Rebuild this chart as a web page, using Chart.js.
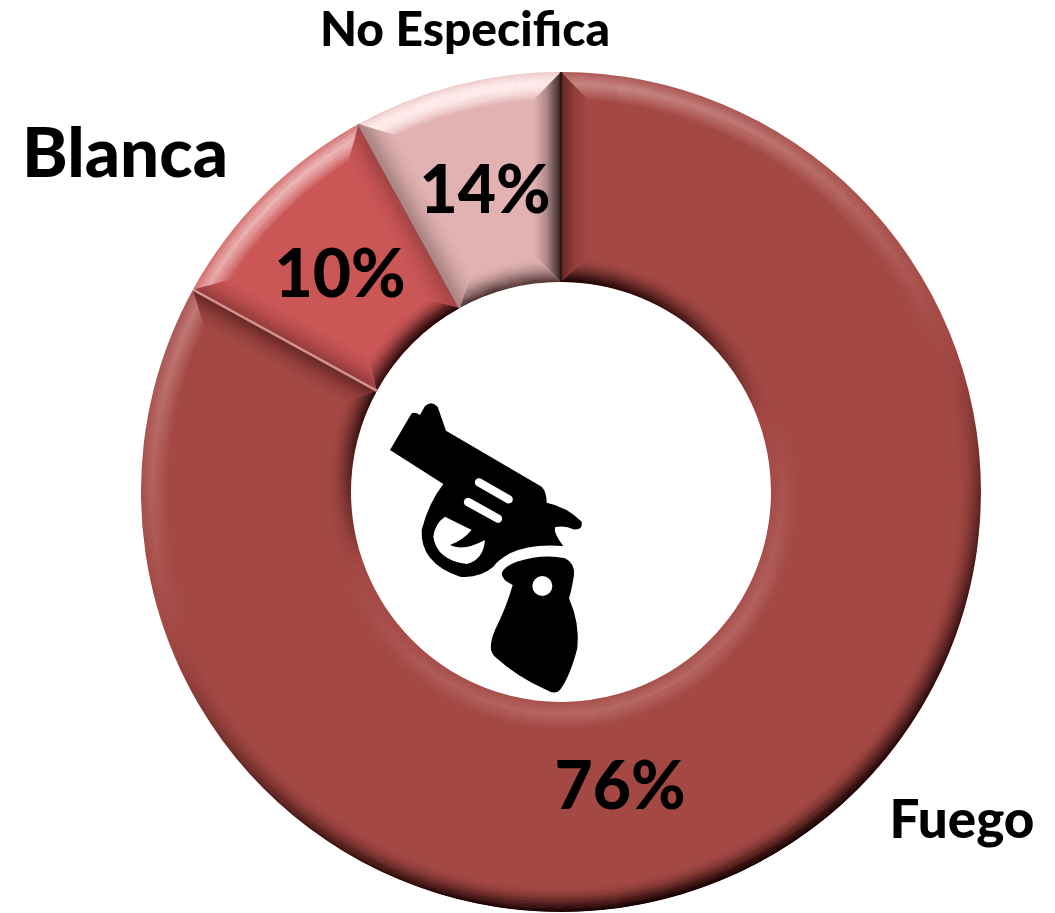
<!DOCTYPE html>
<html><head><meta charset="utf-8">
<style>
html,body{margin:0;padding:0;background:#fff;width:1055px;height:913px;overflow:hidden}
#wrap{position:relative;width:1055px;height:913px}
canvas{position:absolute;left:0;top:0}
#gun{position:absolute;left:370px;top:390px;width:230px;height:310px}
</style>
<script src="https://cdn.jsdelivr.net/npm/chart.js@4/dist/chart.umd.js"></script>
</head><body>
<div id="wrap"><canvas id="c" width="1055" height="913"></canvas>
<svg id="gun" viewBox="0 0 690 930" aria-hidden="true">
<path fill-rule="evenodd" d="M60 180 L125 70 Q135 65 150 75 L165 48 Q185 30 203 50 L228 122 L515 290 Q530 305 530 338 Q590 350 635 395 Q640 420 610 418 Q585 405 555 412 Q550 430 580 468 Q480 460 420 490 Q385 510 370 530 Q330 565 270 560 Q150 520 155 420 Q175 340 220 282 Z M225 380 L305 420 Q280 450 240 465 Q280 485 345 450 Q340 510 290 522 Q200 510 190 440 Q195 400 225 380 Z"/>
<path d="M327 277 L416 328 M294 336 L384 386" stroke="#fff" stroke-width="25" stroke-linecap="round"/>
<path fill-rule="evenodd" d="M395 550 Q400 530 440 515 Q520 490 585 505 Q615 520 612 555 Q605 600 597 625 Q630 700 622 775 Q600 860 570 900 Q555 915 530 900 Q440 860 375 800 Q350 780 375 720 Q410 650 428 585 Q395 570 395 550 Z M547 588 A30 30 0 1 0 487 588 A30 30 0 1 0 547 588 Z"/>
</svg></div>
<script>
const categories = ["Fuego", "Blanca", "No Especifica"];
const sliceSpans = [83, 9, 8];
const percentLabels = ["76%", "10%", "14%"];
const sliceColors = ["#A44844", "#CB5656", "#E2B2B2"];
const percentAnchors = [[620, 788], [340, 276], [485, 192]];
const nameAnchors = [[962, 821, 53], [125, 155, 69], [465, 31, 48]];
const FONT = 'Lato, "Open Sans", sans-serif';
const L = [-0.35, -0.94];

function shade(nx, ny){ return nx * L[0] + ny * L[1]; }

function rimPath(ctx, x, y, r, rIn, a0, a1, w, outer){
  ctx.beginPath();
  if (outer){
    const d = w / (r - w);
    ctx.arc(x, y, r, a0, a1);
    ctx.arc(x, y, r - w, a1 - d, a0 + d, true);
  } else {
    const d = w / (rIn + w);
    ctx.arc(x, y, rIn, a0, a1);
    ctx.arc(x, y, rIn + w, a1 - d, a0 + d, true);
  }
  ctx.closePath();
}

function strokeRim(ctx, x, y, r, rIn, a0, a1, w, outer, strength){
  ctx.save();
  rimPath(ctx, x, y, r, rIn, a0, a1, w, outer);
  ctx.clip();
  for (const layer of [1, -1]){
    const g = [];
    for (let i = 0; i <= 72; i++){
      const t = i / 72, a = t * 2 * Math.PI;
      let s = shade(Math.cos(a), Math.sin(a)) * (outer ? 1 : -1);
      s = Math.max(0, s * layer);
      g.push([t, s]);
    }
    for (let k = 0; k < w; k++){
      const t = k / w;
      const base = layer > 0
        ? (t < 0.4 ? 0.3 + 0.7 * t / 0.4 : 1 - (t - 0.4) / 0.6)
        : Math.pow(1 - t, 2.2);
      const gr = ctx.createConicGradient(0, x, y);
      const lightK = strength.light * (outer ? 1 : 0.45);
      const darkK = strength.dark;
      for (const [p, s] of g){
        const al = base * s * (layer > 0 ? lightK : darkK);
        gr.addColorStop(p, layer > 0 ? `rgba(255,235,235,${al})` : `rgba(20,0,0,${al})`);
      }
      ctx.strokeStyle = gr;
      ctx.lineWidth = 1.5;
      ctx.beginPath();
      ctx.arc(x, y, outer ? r - k - .5 : rIn + k + .5, a0, a1);
      ctx.stroke();
    }
  }
  ctx.restore();
}

function strokeEdge(ctx, x, y, r, rIn, a, dir, w, e){
  const c = Math.cos(a), s = Math.sin(a);
  const px = -s * dir, py = c * dir;
  const ox = x + c * rIn, oy = y + s * rIn, ex = x + c * r, ey = y + s * r;
  ctx.save();
  ctx.beginPath();
  ctx.moveTo(ox, oy); ctx.lineTo(ex, ey);
  ctx.lineTo(x + c * (r - w) + px * w, y + s * (r - w) + py * w);
  ctx.lineTo(x + c * (rIn + w) + px * w, y + s * (rIn + w) + py * w);
  ctx.closePath();
  ctx.clip();
  const g = ctx.createLinearGradient(ex, ey, ex + px * w, ey + py * w);
  g.addColorStop(0, `rgba(${e.rgb},${e.alpha})`);
  g.addColorStop(.55, `rgba(${e.rgb},${e.alpha * .28})`);
  g.addColorStop(1, `rgba(${e.rgb},0)`);
  ctx.fillStyle = g;
  ctx.fillRect(0, 0, 1055, 913);
  ctx.restore();
}

function edgeLine(ctx, x, y, r, rIn, a, color, width){
  const c = Math.cos(a), s = Math.sin(a);
  ctx.save();
  ctx.strokeStyle = color;
  ctx.lineWidth = width;
  ctx.beginPath();
  ctx.moveTo(x + c * rIn, y + s * rIn);
  ctx.lineTo(x + c * r, y + s * r);
  ctx.stroke();
  ctx.restore();
}

const bevelPlugin = {
  id: 'bevel',
  afterDatasetsDraw(chart){
    const ctx = chart.ctx;
    const arcs = chart.getDatasetMeta(0).data;
    const strengths = [{light:.3,dark:1.0},{light:.55,dark:.95},{light:1.15,dark:.6}];
    const edgeStyles = [
      [{rgb:'40,5,5',alpha:.5},{rgb:'40,5,5',alpha:.5}],
      [{rgb:'40,5,5',alpha:.35},{rgb:'60,20,20',alpha:.3}],
      [{rgb:'60,40,40',alpha:.35},{rgb:'20,10,10',alpha:.85}]
    ];
    arcs.forEach((arc, i) => {
      const p = arc.getProps(['x','y','startAngle','endAngle','innerRadius','outerRadius'], true);
      const w = 27, st = strengths[i];
      strokeRim(ctx, p.x, p.y, p.outerRadius, p.innerRadius, p.startAngle, p.endAngle, w, true, st);
      strokeRim(ctx, p.x, p.y, p.outerRadius, p.innerRadius, p.startAngle, p.endAngle, w, false, st);
      strokeEdge(ctx, p.x, p.y, p.outerRadius, p.innerRadius, p.startAngle, 1, w, edgeStyles[i][0]);
      strokeEdge(ctx, p.x, p.y, p.outerRadius, p.innerRadius, p.endAngle, -1, w, edgeStyles[i][1]);
    });
    const q = arcs[0].getProps(['x','y','startAngle','endAngle','innerRadius','outerRadius'], true);
    const b = arcs[1].getProps(['endAngle'], true);
    edgeLine(ctx, q.x, q.y, q.outerRadius, q.innerRadius, q.startAngle, 'rgba(35,20,20,.85)', 2.5);
    edgeLine(ctx, q.x, q.y, q.outerRadius, q.innerRadius, q.endAngle, 'rgba(235,175,175,.75)', 2.5);
    edgeLine(ctx, q.x, q.y, q.outerRadius, q.innerRadius, b.endAngle, 'rgba(170,140,140,.8)', 2.5);
    ctx.save();
    ctx.fillStyle = '#000';
    ctx.textAlign = 'center';
    ctx.textBaseline = 'middle';
    ctx.font = `900 66px ${FONT}`;
    percentLabels.forEach((t, i) => ctx.fillText(t, percentAnchors[i][0], percentAnchors[i][1]));
    categories.forEach((t, i) => {
      const [x, y, size] = nameAnchors[i];
      ctx.font = `900 ${size}px ${FONT}`;
      ctx.fillText(t, x, y);
    });
    ctx.restore();
  }
};

document.fonts.load(`900 66px Lato`).finally(() => {
  new Chart(document.getElementById('c'), {
    type: 'doughnut',
    data: { labels: categories, datasets: [{ data: sliceSpans, backgroundColor: sliceColors, borderWidth: 0 }] },
    options: {
      responsive: false, animation: false, cutout: '50%',
      layout: { padding: { left: 141, right: 74, top: 72, bottom: 1 } },
      plugins: { legend: { display: false }, tooltip: { enabled: false } }
    },
    plugins: [bevelPlugin]
  });
});
</script>
</body></html>
